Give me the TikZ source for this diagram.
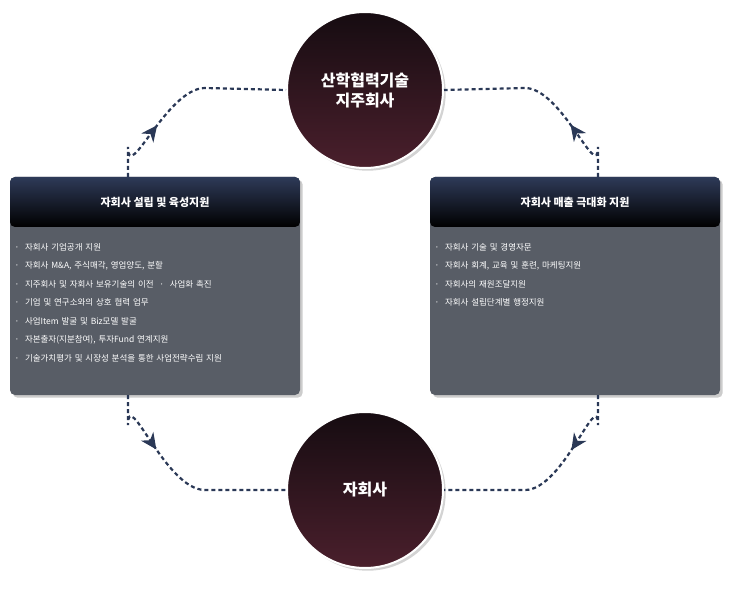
\documentclass[tikz,border=0pt]{standalone}
\usepackage{fontspec}
\setmainfont{Noto Sans CJK KR}
\usetikzlibrary{arrows.meta,positioning,decorations.markings,shadows}
\definecolor{flowblue}{HTML}{2A3856}
\definecolor{ballhi}{HTML}{4A1F2C}
\definecolor{balllo}{HTML}{160C11}
\definecolor{panelgray}{HTML}{585D66}
\definecolor{headtop}{HTML}{2E3A58}

\begin{document}
\begin{tikzpicture}[
    x=1pt, y=-1pt,
    hub/.style = {circle, minimum size=156pt, inner sep=0pt, draw=white, line width=2pt,
                  top color=balllo, bottom color=ballhi, text=white, align=center,
                  font=\bfseries\fontsize{16}{20}\selectfont, drop shadow={opacity=0.35}},
    panel/.style = {rectangle, rounded corners=5pt, fill=panelgray, minimum width=290pt,
                    minimum height=218pt, drop shadow={opacity=0.4}},
    panelhead/.style = {rectangle, rounded corners=5pt, top color=headtop, bottom color=black,
                        minimum width=290pt, minimum height=50pt, text=white,
                        font=\bfseries\fontsize{11}{13}\selectfont},
    items/.style = {text=white, text width=270pt, align=left, inner sep=0pt,
                    font=\fontsize{8.5}{18.5}\selectfont},
    flow/.style = {draw=flowblue, line width=2.2pt, dash pattern=on 4pt off 3pt,
                   postaction={decorate}},
    tipat/.style = {decoration={markings, mark=at position #1 with
                   {\arrow[flowblue,solid]{Stealth[length=16pt,width=15pt,inset=5pt]}}}}
]
    \useasboundingbox (0,0) rectangle (730,601);

    % Hubs
    \node[hub] (holding) at (365,90) {산학협력기술\\지주회사};
    \node[hub] (child) at (365,490) {자회사};

    % Panels
    \node[panel] (left) at (155,286) {};
    \node[panelhead, below=0pt of left.north] (lefthead) {자회사 설립 및 육성지원};
    \node[items, below left=16pt and -275pt of lefthead.south west] (leftitems)
        {·\ \ 자회사 기업공개 지원\\
         ·\ \ 자회사 M\&A, 주식매각, 영업양도, 분할\\
         ·\ \ 지주회사 및 자회사 보유기술의 이전 \ · \ 사업화 촉진\\
         ·\ \ 기업 및 연구소와의 상호 협력 업무\\
         ·\ \ 사업Item 발굴 및 Biz모델 발굴\\
         ·\ \ 자본출자(지분참여), 투자Fund 연계지원\\
         ·\ \ 기술가치평가 및 시장성 분석을 통한 사업전략수립 지원};

    \node[panel] (right) at (575,286) {};
    \node[panelhead, below=0pt of right.north] (righthead) {자회사 매출 극대화 지원};
    \node[items, below left=16pt and -275pt of righthead.south west] (rightitems)
        {·\ \ 자회사 기술 및 경영자문\\
         ·\ \ 자회사 회계, 교육 및 훈련, 마케팅지원\\
         ·\ \ 자회사의 재원조달지원\\
         ·\ \ 자회사 설립단계별 행정지원};

    % Cycle
    \coordinate (lt) at (128,177);
    \coordinate (rt) at (598,177);
    \coordinate (lb) at (128,395);
    \coordinate (rb) at (598,395);
    \draw[flow, tipat=0.36] (lt) -- ++(0,-30) to[out=-90,in=180] (205,88) -- (holding.west);
    \draw[flow, tipat=0.36] (rt) -- ++(0,-30) to[out=-90,in=0] (525,88) -- (holding.east);
    \draw[flow, tipat=0.36] (lb) -- ++(0,30) to[out=90,in=180] (205,490) -- (child.west);
    \draw[flow, tipat=0.36] (rb) -- ++(0,30) to[out=90,in=0] (525,490) -- (child.east);
\end{tikzpicture}
\end{document}
